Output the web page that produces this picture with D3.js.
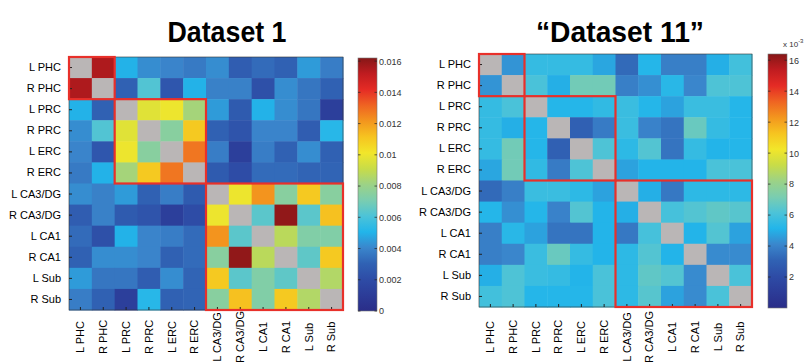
<!DOCTYPE html>
<html>
<head>
<meta charset="utf-8">
<script src="https://cdn.jsdelivr.net/npm/d3@7"></script>
<style>
  body { margin: 0; background: #fff; }
  svg { display: block; }
</style>
</head>
<body>
<script>
// region names, same order on both axes
var regions = ["L PHC", "R PHC", "L PRC", "R PRC", "L ERC", "R ERC",
               "L CA3/DG", "R CA3/DG", "L CA1", "R CA1", "L Sub", "R Sub"];

// Dataset 1 matrix (diagonal is empty)
var dataset1 = [
  [null, 0.0155, 0.0050, 0.0042, 0.0040, 0.0037, 0.0042, 0.0028, 0.0033, 0.0030, 0.0045, 0.0038],
  [0.0155, null, 0.0030, 0.0062, 0.0025, 0.0050, 0.0039, 0.0039, 0.0022, 0.0042, 0.0036, 0.0030],
  [0.0050, 0.0030, null, 0.0097, 0.0100, 0.0083, 0.0045, 0.0027, 0.0050, 0.0042, 0.0036, 0.0012],
  [0.0042, 0.0062, 0.0097, null, 0.0075, 0.0110, 0.0030, 0.0024, 0.0040, 0.0040, 0.0028, 0.0052],
  [0.0040, 0.0025, 0.0100, 0.0075, null, 0.0128, 0.0038, 0.0012, 0.0038, 0.0030, 0.0042, 0.0030],
  [0.0037, 0.0050, 0.0083, 0.0110, 0.0128, null, 0.0027, 0.0020, 0.0033, 0.0033, 0.0031, 0.0031],
  [0.0042, 0.0039, 0.0045, 0.0030, 0.0038, 0.0027, null, 0.0100, 0.0122, 0.0075, 0.0110, 0.0075],
  [0.0028, 0.0039, 0.0027, 0.0024, 0.0012, 0.0020, 0.0100, null, 0.0064, 0.0160, 0.0064, 0.0112],
  [0.0033, 0.0022, 0.0050, 0.0040, 0.0038, 0.0033, 0.0122, 0.0064, null, 0.0088, 0.0073, 0.0073],
  [0.0030, 0.0042, 0.0042, 0.0040, 0.0030, 0.0033, 0.0075, 0.0160, 0.0088, null, 0.0065, 0.0110],
  [0.0045, 0.0036, 0.0036, 0.0028, 0.0042, 0.0031, 0.0110, 0.0064, 0.0073, 0.0065, null, 0.0086],
  [0.0038, 0.0030, 0.0012, 0.0052, 0.0030, 0.0031, 0.0075, 0.0112, 0.0073, 0.0110, 0.0086, null]
];

// "Dataset 11" matrix, in units of 1e-3
var dataset11 = [
  [null, 4.4, 5.6, 5.6, 5.6, 4.8, 3.3, 5.2, 3.9, 3.9, 5.0, 5.9],
  [4.4, null, 6.1, 5.0, 7.0, 7.0, 3.9, 4.3, 5.3, 4.1, 6.2, 6.2],
  [5.6, 6.1, null, 5.2, 5.2, 5.5, 5.7, 5.2, 4.7, 5.7, 5.7, 5.2],
  [5.6, 5.0, 5.2, null, 3.0, 3.8, 5.7, 4.0, 3.6, 6.8, 5.6, 5.2],
  [5.6, 7.0, 5.2, 3.0, null, 6.2, 5.4, 6.3, 3.6, 5.6, 5.1, 5.2],
  [4.8, 7.0, 5.5, 3.8, 6.2, null, 4.7, 5.1, 5.1, 5.1, 6.1, 6.1],
  [3.3, 3.9, 5.7, 5.7, 5.4, 4.7, null, 5.0, 3.7, 5.4, 5.4, 5.4],
  [5.2, 4.3, 5.2, 4.0, 6.3, 5.1, 5.0, null, 6.0, 6.3, 6.6, 6.4],
  [3.9, 5.3, 4.7, 3.6, 3.6, 5.1, 3.7, 6.0, null, 5.1, 6.3, 4.7],
  [3.9, 4.1, 5.7, 6.8, 5.6, 5.1, 5.4, 6.3, 5.1, null, 4.2, 4.2],
  [5.0, 6.2, 5.7, 5.6, 5.1, 6.1, 5.4, 6.6, 6.3, 4.2, null, 6.1],
  [5.9, 6.2, 5.2, 5.2, 5.2, 6.1, 5.4, 6.4, 4.7, 4.2, 6.1, null]
];

// blocks outlined in red: [first, last+1]
var blocks = [[0, 2], [2, 6], [6, 12]];

var ticks1 = [0, 0.002, 0.004, 0.006, 0.008, 0.01, 0.012, 0.014, 0.016];
var tickLabels1 = ["0", "0.002", "0.004", "0.006", "0.008", "0.01", "0.012", "0.014", "0.016"];
var ticks11 = [2, 4, 6, 8, 10, 12, 14, 16];
var tickLabels11 = ["2", "4", "6", "8", "10", "12", "14", "16"];

// colormap sampled from the colour bar, bottom to top
var cmap = ["#2a2d88", "#2c3c98", "#2e4ca6", "#3062b4", "#3a86cc", "#22b5ea",
            "#4cc3d8", "#7acdb0", "#9cd286", "#c8dc48", "#f2e62a", "#f6c420",
            "#f3961e", "#ef6422", "#e52b25", "#c01c20", "#861717"];

var W = 808, H = 364;
var font = "'Liberation Sans', Arial, sans-serif";
var nanColor = "#bab6b6";
var boxColor = "#e8302a";

var svg = d3.select("body").append("svg")
  .attr("width", W)
  .attr("height", H)
  .style("font-family", font);

function colorScale(maxVal) {
  var dom = cmap.map(function(c, i) { return i * maxVal / (cmap.length - 1); });
  return d3.scaleLinear().domain(dom).range(cmap).interpolate(d3.interpolateRgb).clamp(true);
}

function drawPanel(cfg) {
  var x = d3.scaleBand().domain(regions).range([cfg.x, cfg.x + cfg.w]);
  var y = d3.scaleBand().domain(regions).range([cfg.y, cfg.y + cfg.h]);
  var color = colorScale(cfg.max);

  var cells = [];
  cfg.data.forEach(function(row, i) {
    row.forEach(function(v, j) {
      cells.push({ r: regions[i], c: regions[j], v: v });
    });
  });

  var g = svg.append("g");

  g.selectAll("rect.cell")
    .data(cells)
    .enter().append("rect")
    .attr("class", "cell")
    .attr("x", function(d) { return x(d.c); })
    .attr("y", function(d) { return y(d.r); })
    .attr("width", x.bandwidth() + 0.5)
    .attr("height", y.bandwidth() + 0.5)
    .attr("fill", function(d) { return d.v == null ? nanColor : color(d.v); });

  // axes frame
  g.append("rect")
    .attr("x", cfg.x).attr("y", cfg.y)
    .attr("width", cfg.w).attr("height", cfg.h)
    .attr("fill", "none")
    .attr("stroke", "#333")
    .attr("stroke-width", 0.6);

  // row labels
  var yAxis = g.append("g")
    .attr("transform", "translate(" + cfg.x + ",0)")
    .call(d3.axisLeft(y).tickSize(-3).tickPadding(8));
  yAxis.select(".domain").remove();
  yAxis.selectAll("line").attr("stroke", "#222");
  yAxis.selectAll("text")
    .attr("font-size", 11)
    .attr("font-family", font)
    .attr("fill", "#000");

  // column labels, rotated
  var xAxis = g.append("g")
    .attr("transform", "translate(0," + (cfg.y + cfg.h) + ")")
    .call(d3.axisBottom(x).tickSize(-3));
  xAxis.select(".domain").remove();
  xAxis.selectAll("line").attr("stroke", "#222");
  xAxis.selectAll("text")
    .attr("font-size", 11)
    .attr("font-family", font)
    .attr("fill", "#000")
    .attr("x", 0).attr("y", 0)
    .attr("dy", "0.35em")
    .attr("text-anchor", "middle")
    .attr("transform", "translate(0," + (337 - cfg.y - cfg.h) + ") rotate(-90)");

  // red block outlines
  g.selectAll("rect.block")
    .data(blocks)
    .enter().append("rect")
    .attr("class", "block")
    .attr("x", function(b) { return x(regions[b[0]]); })
    .attr("y", function(b) { return y(regions[b[0]]); })
    .attr("width", function(b) { return x.step() * (b[1] - b[0]); })
    .attr("height", function(b) { return y.step() * (b[1] - b[0]); })
    .attr("fill", "none")
    .attr("stroke", boxColor)
    .attr("stroke-width", 2.2);

  // title, squeezed to the condensed width of the original
  svg.append("text")
    .attr("x", cfg.titleX)
    .attr("y", 42)
    .attr("text-anchor", "middle")
    .attr("font-family", "'Liberation Sans', Arial, sans-serif")
    .attr("font-weight", "bold")
    .attr("font-size", 30)
    .attr("textLength", cfg.titleW)
    .attr("lengthAdjust", "spacingAndGlyphs")
    .text(cfg.title);

  // colour bar
  var cb = cfg.bar;
  var cy = d3.scaleLinear().domain([0, cfg.max]).range([cb.y + cb.h, cb.y]);
  var gradId = "grad" + cfg.id;
  var grad = svg.append("defs").append("linearGradient")
    .attr("id", gradId)
    .attr("x1", 0).attr("y1", 1).attr("x2", 0).attr("y2", 0);
  grad.selectAll("stop")
    .data(cmap)
    .enter().append("stop")
    .attr("offset", function(d, i) { return i / (cmap.length - 1); })
    .attr("stop-color", function(d) { return d; });

  var bg = svg.append("g");
  bg.append("rect")
    .attr("x", cb.x).attr("y", cb.y)
    .attr("width", cb.w).attr("height", cb.h)
    .attr("fill", "url(#" + gradId + ")")
    .attr("stroke", "#777")
    .attr("stroke-width", 0.6);

  var cAxis = bg.append("g")
    .attr("transform", "translate(" + (cb.x + cb.w) + ",0)")
    .call(d3.axisRight(cy).tickValues(cfg.ticks)
      .tickFormat(function(d, i) { return cfg.tickLabels[i]; })
      .tickSize(0).tickPadding(2));
  cAxis.select(".domain").remove();
  cAxis.selectAll("text")
    .attr("font-size", 9)
    .attr("font-family", font)
    .attr("fill", "#333");

  // small inward ticks on both sides of the bar
  bg.selectAll("line.ct")
    .data(cfg.ticks.concat(cfg.ticks))
    .enter().append("line")
    .attr("x1", function(d, i) { return i < cfg.ticks.length ? cb.x : cb.x + cb.w; })
    .attr("x2", function(d, i) { return i < cfg.ticks.length ? cb.x + 2.5 : cb.x + cb.w - 2.5; })
    .attr("y1", function(d) { return cy(d); })
    .attr("y2", function(d) { return cy(d); })
    .attr("stroke", "#222")
    .attr("stroke-width", 0.7);

  return bg;
}

drawPanel({
  id: 1, title: "Dataset 1", titleX: 227, titleW: 119,
  data: dataset1, max: 0.0162,
  x: 69, y: 57, w: 274, h: 253,
  bar: { x: 358, y: 58, w: 19, h: 253 },
  ticks: ticks1, tickLabels: tickLabels1
});

var bar11 = drawPanel({
  id: 11, title: "\u201CDataset 11\u201D", titleX: 620, titleW: 168,
  data: dataset11, max: 16.4,
  x: 479, y: 54, w: 273, h: 253,
  bar: { x: 768, y: 54, w: 19, h: 254 },
  ticks: ticks11, tickLabels: tickLabels11
});

// exponent note above the second colour bar
var expo = bar11.append("text")
  .attr("x", 783)
  .attr("y", 47)
  .attr("font-size", 8)
  .attr("fill", "#333");
expo.append("tspan").text("x 10");
expo.append("tspan").attr("dy", -4).attr("font-size", 6).text("-3");
</script>
</body>
</html>
